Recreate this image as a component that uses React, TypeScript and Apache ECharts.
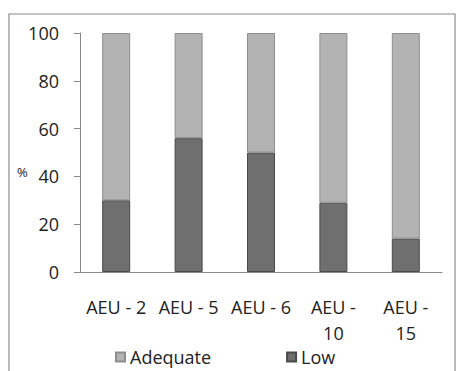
import React, { useEffect, useRef } from "react";
import * as echarts from "echarts";

const categories = ["AEU - 2", "AEU - 5", "AEU - 6", "AEU - 10", "AEU - 15"];
const lowValues = [30, 56, 50, 29, 14];
const adequateValues = [70, 44, 50, 71, 86];
const yTicks = [0, 20, 40, 60, 80, 100];

const FONT = "Open Sans";

export default function App() {
  const ref = useRef<HTMLDivElement>(null);

  useEffect(() => {
    if (!ref.current) return;
    const chart = echarts.init(ref.current, undefined, { renderer: "svg" });
    chart.setOption({
      animation: false,
      backgroundColor: "#ffffff",
      textStyle: { fontFamily: FONT },
      graphic: [
        {
          type: "rect",
          shape: { x: 9, y: 14, width: 446, height: 360 },
          style: { fill: "none", stroke: "#8a8a8a", lineWidth: 1.2 },
          silent: true,
        },
        {
          type: "text",
          x: 17,
          y: 172,
          style: { text: "%", font: `13px '${FONT}'`, fill: "#222", textVerticalAlign: "middle" },
        },
      ],
      legend: {
        bottom: 0,
        left: 110,
        itemWidth: 9,
        itemHeight: 9,
        itemGap: 75,
        icon: "rect",
        textStyle: { fontSize: 18, color: "#222", fontFamily: FONT },
        data: ["Adequate", "Low"],
      },
      grid: { left: 80, right: 15, top: 33, bottom: 99, containLabel: false },
      xAxis: {
        type: "category",
        data: categories,
        axisLine: { lineStyle: { color: "#888", width: 1 } },
        axisTick: { length: 5, lineStyle: { color: "#888" } },
        axisLabel: {
          interval: 0,
          color: "#222",
          fontSize: 18,
          fontFamily: FONT,
          margin: 22,
          lineHeight: 26,
          formatter: (v: string) => (v.length > 7 ? v.replace("- ", "-\n") : v),
        },
      },
      yAxis: {
        type: "value",
        min: yTicks[0],
        max: yTicks[yTicks.length - 1],
        interval: 20,
        axisLine: { show: true, lineStyle: { color: "#888", width: 1 } },
        axisTick: { show: true, length: 6, lineStyle: { color: "#888" } },
        splitLine: { show: false },
        axisLabel: { color: "#222", fontSize: 18, fontFamily: FONT, margin: 21 },
      },
      series: [
        {
          name: "Low",
          type: "bar",
          stack: "total",
          data: lowValues,
          barWidth: 28,
          itemStyle: { color: "#6f6f6f", borderColor: "#4a4a4a", borderWidth: 1 },
        },
        {
          name: "Adequate",
          type: "bar",
          stack: "total",
          data: adequateValues,
          barWidth: 28,
          itemStyle: { color: "#b3b3b3", borderColor: "#8e8e8e", borderWidth: 1 },
        },
      ],
    });
    return () => chart.dispose();
  }, []);

  return (
    <div
      ref={ref}
      style={{ position: "absolute", left: 0, top: 0, width: 457, height: 371 }}
    />
  );
}
